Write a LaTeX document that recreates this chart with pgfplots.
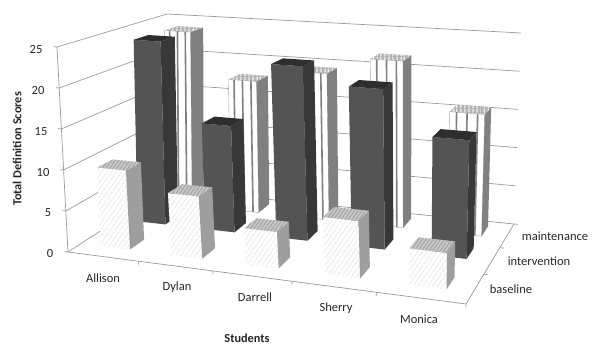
\documentclass[border=0pt]{standalone}
\usepackage{fontspec}
\setmainfont{Carlito}
\usepackage{pgfplots}
\pgfplotsset{compat=1.18}
\usetikzlibrary{patterns.meta}

% floor and top planes of the box, projected to picture pixels
\newcommand\proj[4]{%
  \pgfmathsetmacro\tz{#4/25}%
  \pgfmathsetmacro\wf{1-0.1425*#2+0.16*#3}%
  \pgfmathsetmacro\wt{1-0.2161*#2+0.2023*#3}%
  \pgfmathsetmacro\px{(1-\tz)*(331.6*#2+123.4*#3+68)/\wf+\tz*(313*#2+143.78*#3+57)/\wt}%
  \pgfmathsetmacro\py{(1-\tz)*(8.68*#2-32.76*#3+252)/\wf+\tz*(15.71*#2-30.17*#3+47)/\wt}%
  \expandafter\xdef\csname #1\endcsname{(\px,\py)}}

\newcommand\segment[7]{% style, u v z, u v z
  \proj{pa}{#2}{#3}{#4}\proj{pb}{#5}{#6}{#7}%
  \edef\cmd{\noexpand\addplot[#1] coordinates {\pa\pb};}\cmd}

% bar: student index (0-4), row v start, value, style prefix
\newcommand\barbox[4]{%
  \pgfmathsetmacro\ua{0.1+0.2*#1-\barw}%
  \pgfmathsetmacro\ub{0.1+0.2*#1+\barw}%
  \pgfmathsetmacro\va{#2}%
  \pgfmathsetmacro\vb{#2+\bard}%
  \proj{pa}{\ua}{\va}{0}\proj{pb}{\ub}{\va}{0}\proj{pc}{\ub}{\va}{#3}\proj{pd}{\ua}{\va}{#3}%
  \proj{pe}{\ub}{\vb}{0}\proj{pf}{\ub}{\vb}{#3}\proj{pg}{\ua}{\vb}{#3}%
  \edef\cmd{\noexpand\addplot[#4front] coordinates {\pa\pb\pc\pd\pa};
    \noexpand\addplot[#4side] coordinates {\pb\pe\pf\pc\pb};
    \noexpand\addplot[#4top] coordinates {\pd\pc\pf\pg\pd};}\cmd}

\newcommand\stripes[3]{% student, row v start, value
  \foreach \k in {0.2,0.5,0.8}{%
    \pgfmathsetmacro\us{0.1+0.2*#1-\barw+2*\barw*\k}%
    \proj{pa}{\us}{#2}{0}\proj{pb}{\us}{#2}{#3}%
    \edef\cmd{\noexpand\addplot[stripe] coordinates {\pa\pb};}\cmd}}

\def\barw{0.042}
\def\bard{0.14}
\def\rowa{0.12}
\def\rowb{0.485}
\def\rowc{0.79}

\tikzset{
  wall/.style={draw=black!40,line width=0.7pt},
  bfront/.style={draw=none,fill=white,postaction={pattern={Lines[angle=55,distance=4pt,line width=0.8pt]},pattern color=black!18}},
  bside/.style={draw=none,fill=black!38},
  btop/.style={draw=none,fill=black!22,postaction={pattern={Lines[angle=55,distance=3pt,line width=0.8pt]},pattern color=black!38}},
  ifront/.style={draw=none,fill=black!67},
  iside/.style={draw=none,fill=black!78},
  itop/.style={draw=none,fill=black!82},
  mfront/.style={draw=black!35,line width=0.4pt,fill=white},
  mside/.style={draw=none,fill=black!50},
  mtop/.style={draw=none,fill=black!30,postaction={pattern={Lines[angle=90,distance=4pt,line width=1.2pt]},pattern color=white}},
  stripe/.style={draw=black!50,line width=1.6pt},
  lab/.style={font=\fontsize{12.5}{14}\selectfont,text=black!85},
  blab/.style={font=\fontsize{12.3}{14}\selectfont\bfseries,text=black!85},
}

\begin{document}
\begin{tikzpicture}
\begin{axis}[
  x=1pt,y=1pt,
  y dir=reverse,
  xmin=0,xmax=594,ymin=0,ymax=344,
  hide axis,
  clip=false,
  no markers,
]
\path (axis cs:0,0) rectangle (axis cs:594,344);

% walls and gridlines
\foreach \z in {0,5,10,15,20,25}{%
  \proj{pa}{0}{0}{\z}\proj{pb}{0}{1}{\z}\proj{pc}{1}{1}{\z}%
  \edef\cmd{\noexpand\addplot[wall] coordinates {\pa\pb\pc};}\cmd
  \proj{pa}{-0.01}{0}{\z}\proj{pb}{0}{0}{\z}%
  \edef\cmd{\noexpand\addplot[wall] coordinates {\pa\pb};}\cmd
}
\segment{wall}{0}{0}{0}{0}{0}{25}
\segment{wall}{0}{0}{0}{1}{0}{0}
\segment{wall}{1}{0}{0}{1}{1}{0}

% floor ticks
\foreach \u in {0.2,0.4,0.6,0.8,1}{%
  \proj{pa}{\u}{0}{0}\proj{pb}{\u}{0}{-0.4}%
  \edef\cmd{\noexpand\addplot[wall] coordinates {\pa\pb};}\cmd
}
\foreach \v in {0.333,0.667,1}{%
  \proj{pa}{1}{\v}{0}\proj{pb}{1.01}{\v}{0}%
  \edef\cmd{\noexpand\addplot[wall] coordinates {\pa\pb};}\cmd
}

% maintenance row
\barbox{0}{\rowc}{23.7}{m}\stripes{0}{\rowc}{23.7}
\barbox{1}{\rowc}{17.6}{m}\stripes{1}{\rowc}{17.6}
\barbox{2}{\rowc}{19.3}{m}\stripes{2}{\rowc}{19.3}
\barbox{3}{\rowc}{21.6}{m}\stripes{3}{\rowc}{21.6}
\barbox{4}{\rowc}{15.5}{m}\stripes{4}{\rowc}{15.5}

% intervention row
\barbox{0}{\rowb}{23.8}{i}
\barbox{1}{\rowb}{13.6}{i}
\barbox{2}{\rowb}{21.9}{i}
\barbox{3}{\rowb}{19.8}{i}
\barbox{4}{\rowb}{14.4}{i}

% baseline row
\barbox{0}{\rowa}{9.7}{b}
\barbox{1}{\rowa}{7.5}{b}
\barbox{2}{\rowa}{4.3}{b}
\barbox{3}{\rowa}{6.7}{b}
\barbox{4}{\rowa}{4.2}{b}

% text
\node[lab] at (axis cs:36,49) {25};
\node[lab] at (axis cs:38,90) {20};
\node[lab] at (axis cs:41,132) {15};
\node[lab] at (axis cs:43,172) {10};
\node[lab] at (axis cs:48,213) {5};
\node[lab] at (axis cs:50,253) {0};
\node[lab] at (axis cs:103,278) {Allison};
\node[lab] at (axis cs:177,287) {Dylan};
\node[lab] at (axis cs:255,297) {Darrell};
\node[lab] at (axis cs:336,308) {Sherry};
\node[lab] at (axis cs:419,319) {Monica};
\node[lab] at (axis cs:555,236) {maintenance};
\node[lab] at (axis cs:539,261) {intervention};
\node[lab] at (axis cs:511,289) {baseline};
\node[blab] at (axis cs:247,338) {Students};
\node[blab,rotate=90] at (axis cs:17,149) {Total Definition Scores};
\end{axis}
\end{tikzpicture}
\end{document}
